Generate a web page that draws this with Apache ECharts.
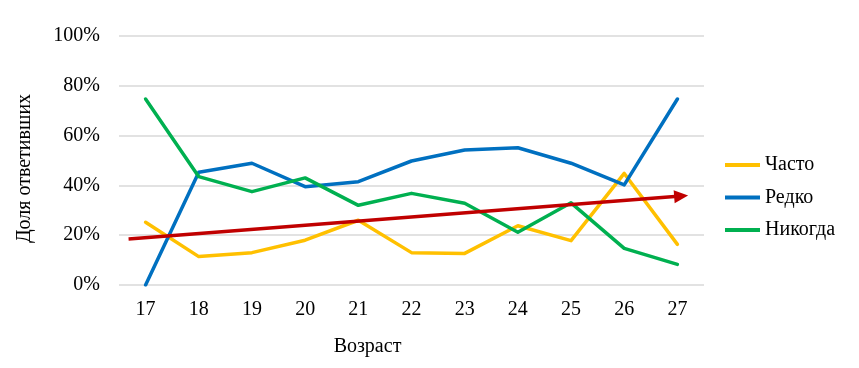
<!DOCTYPE html>
<html>
<head>
<meta charset="utf-8">
<script src="https://cdn.jsdelivr.net/npm/echarts@6/dist/echarts.min.js"></script>
<style>
  html, body { margin: 0; padding: 0; background: #fff; }
  #chart { width: 859px; height: 368px; }
</style>
</head>
<body>
<div id="chart"></div>
<script>
// данные (в процентах)
const ages = ['17', '18', '19', '20', '21', '22', '23', '24', '25', '26', '27']
const often = [25.2, 11.4, 13, 18, 26, 13, 12.7, 23.8, 17.8, 44.8, 16.3]
const rarely = [0, 45.3, 48.9, 39.5, 41.5, 49.8, 54.2, 55.1, 48.9, 40.2, 74.7]
const never = [74.7, 43.5, 37.5, 43, 32, 36.8, 32.8, 21.2, 33, 14.7, 8.3]
// красная стрелка тренда: [позиция по категориям, %]
const trendStart = [-0.32, 18.5]
const trendEnd = [10.07, 35.7]

const font = '"Liberation Serif", "Times New Roman", "DejaVu Serif", serif'
const chart = echarts.init(document.getElementById('chart'))

const lineSeries = (name, data, color) => ({
  name,
  type: 'line',
  data,
  symbol: 'none',
  lineStyle: { width: 3.5, color, cap: 'round', join: 'round' },
  itemStyle: { color }
})

chart.setOption({
  animation: false,
  grid: { left: 119, right: 155, top: 36, bottom: 83 },
  legend: {
    orient: 'vertical',
    left: 720,
    top: 150,
    itemGap: 12.5,
    icon: 'rect',
    itemWidth: 35,
    itemHeight: 4,
    data: ['Часто', 'Редко', 'Никогда'],
    textStyle: { fontFamily: font, fontSize: 20, lineHeight: 20, color: '#000' }
  },
  xAxis: [
    {
      type: 'category',
      data: ages,
      name: 'Возраст',
      nameLocation: 'middle',
      nameGap: 52,
      nameTextStyle: { fontFamily: font, fontSize: 20, color: '#000', padding: [0, 88, 0, 0] },
      axisLine: { show: false },
      axisTick: { show: false },
      axisLabel: { fontFamily: font, fontSize: 20, color: '#000', margin: 15 }
    },
    {
      type: 'value',
      min: -0.5,
      max: 10.5,
      show: false
    }
  ],
  yAxis: {
    type: 'value',
    min: 0,
    max: 100,
    interval: 20,
    name: 'Доля ответивших',
    nameLocation: 'middle',
    nameGap: 84,
    nameTextStyle: { fontFamily: font, fontSize: 20, color: '#000', padding: [0, 16, 0, 0] },
    axisLine: { show: false },
    axisTick: { show: false },
    axisLabel: { formatter: '{value}%', fontFamily: font, fontSize: 20, color: '#000', margin: 19 },
    splitLine: { lineStyle: { color: '#d9d9d9', width: 1.5 } }
  },
  series: [
    lineSeries('Часто', often, '#ffc000'),
    lineSeries('Редко', rarely, '#0070c0'),
    lineSeries('Никогда', never, '#00b050'),
    {
      name: 'тренд',
      type: 'line',
      xAxisIndex: 1,
      data: [],
      z: 5,
      markLine: {
        silent: true,
        symbol: ['none', 'triangle'],
        symbolSize: [13, 14],
        label: { show: false },
        lineStyle: { color: '#c00000', width: 3.5, type: 'solid' },
        data: [[{ coord: trendStart }, { coord: trendEnd }]]
      }
    }
  ]
})
</script>
</body>
</html>
